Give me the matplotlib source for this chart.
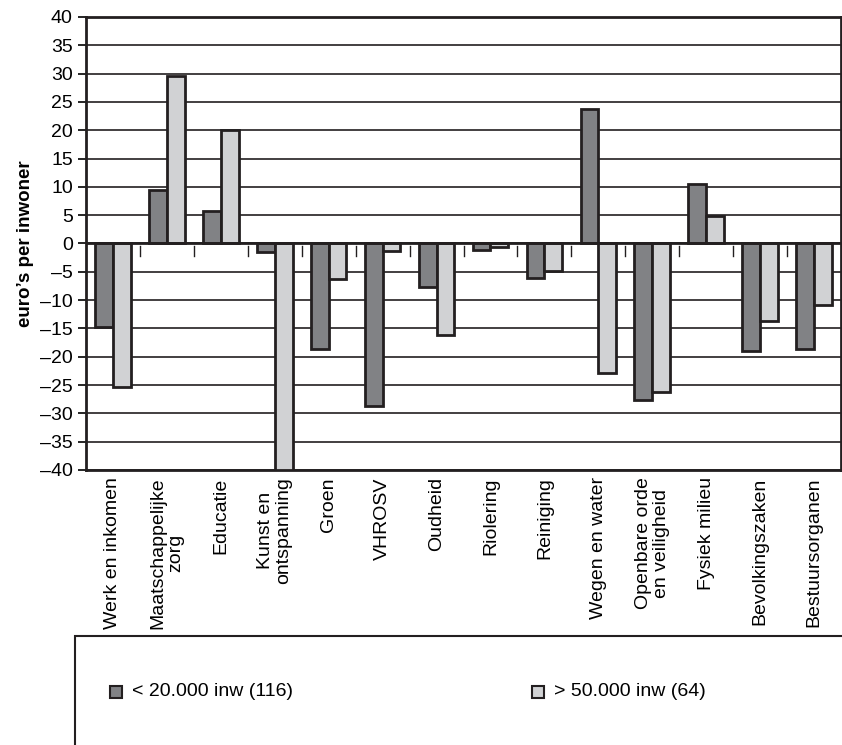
import numpy as np
import matplotlib.pyplot as plt
from matplotlib.patches import Rectangle

categories = ["Werk en inkomen", "Maatschappelijke\nzorg", "Educatie", "Kunst en\nontspanning",
              "Groen", "VHROSV", "Oudheid", "Riolering", "Reiniging", "Wegen en water",
              "Openbare orde\nen veiligheid", "Fysiek milieu", "Bevolkingszaken", "Bestuursorganen"]
small = [-14.8, 9.5, 5.7, -1.5, -18.6, -28.7, -7.6, -1.2, -6.1, 23.7, -27.6, 10.5, -19.0, -18.7]
large = [-25.3, 29.6, 20.1, -40.0, -6.2, -1.4, -16.1, -0.7, -4.9, -22.8, -26.2, 4.8, -13.7, -10.9]
yticks = list(range(-40, 45, 5))
ylabels = [str(v).replace("-", "\u2013") for v in yticks]

plt.rcParams['font.family'] = ['Liberation Sans', 'DejaVu Sans']
fig = plt.figure(figsize=(8.42, 7.45), dpi=100)
ax = fig.add_axes([86/842, 1-470/745, 755/842, 453/745])

x = np.arange(len(categories))
w = 0.33
ax.bar(x - w/2, small, w, color="#818285", edgecolor="#231f20", linewidth=2, zorder=3)
ax.bar(x + w/2, large, w, color="#d1d2d4", edgecolor="#231f20", linewidth=2, zorder=3)

ax.set_xlim(-0.5, len(categories) - 0.5)
ax.set_ylim(-40, 40)
ax.set_yticks(yticks)
ax.set_yticklabels(ylabels, fontsize=14)
ax.yaxis.grid(True, color="#231f20", linewidth=1.2, zorder=0)
ax.axhline(0, color="#231f20", linewidth=2, zorder=4)
for s in ax.spines.values():
    s.set_linewidth(2)
    s.set_color("#231f20")
ax.tick_params(axis="y", length=6, width=1.2)
ax.set_xticks([])
for b in np.arange(0.5, len(categories) - 0.5):
    ax.plot([b, b], [-0.5, -2.2], color="#231f20", linewidth=1, zorder=4)
for i, c in enumerate(categories):
    ax.text(i, -41.3, c, rotation=90, ha="center", va="top", fontsize=14, linespacing=1.1)
ax.set_ylabel("euro\u2019s per inwoner", fontsize=13.5, fontweight="bold", labelpad=4)

# legend box, open at the bottom of the figure
fig.patches.append(Rectangle((75/842, 1-760/745), 790/842, 124/745, transform=fig.transFigure,
                             fill=False, edgecolor="#231f20", linewidth=1.5))
for xp, col, lab in [(110, "#818285", "< 20.000 inw (116)"), (532, "#d1d2d4", "> 50.000 inw (64)")]:
    fig.patches.append(Rectangle((xp/842, 1-698/745), 12/842, 12/745, transform=fig.transFigure,
                                 facecolor=col, edgecolor="#231f20", linewidth=1.5))
    fig.text((xp+22)/842, 1-692/745, lab, fontsize=14, va="center")

fig.savefig("out.png", dpi=100)
